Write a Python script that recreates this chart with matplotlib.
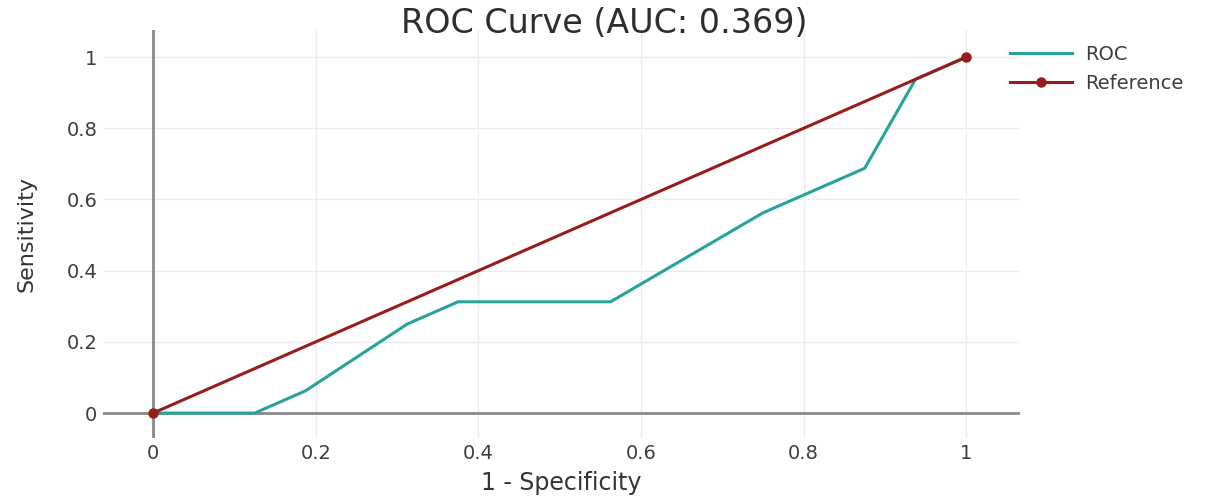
import matplotlib
matplotlib.use("Agg")
import matplotlib.pyplot as plt

plt.rcParams['font.family'] = ['DejaVu Sans']

# ROC points
fpr = [0, 0.125, 0.1875, 0.3125, 0.375, 0.5625, 0.75, 0.875, 0.9375, 1.0]
tpr = [0, 0, 0.0625, 0.25, 0.3125, 0.3125, 0.5625, 0.6875, 0.9375, 1.0]
ref_x = [0, 1]
ref_y = [0, 1]
ticks = [0, 0.2, 0.4, 0.6, 0.8, 1]
tick_labels = ["0", "0.2", "0.4", "0.6", "0.8", "1"]
auc = 0.369

fig = plt.figure(figsize=(12.31, 4.98), dpi=100)
ax = fig.add_axes([0.0837, 0.1205, 0.7449, 0.8193])

ax.axvline(0, color="#8a8a8a", lw=2, zorder=1)
ax.axhline(0, color="#8a8a8a", lw=2, zorder=1)
ax.plot(fpr, tpr, color="#26a39b", lw=2.2, label="ROC", zorder=3)
ax.plot(ref_x, ref_y, color="#991c1c", lw=2.2, marker="o", ms=6.5, label="Reference", zorder=3)

ax.set_xlim(-0.0615, 1.066)
ax.set_ylim(-0.070, 1.076)
ax.set_xticks(ticks)
ax.set_xticklabels(tick_labels)
ax.set_yticks(ticks)
ax.set_yticklabels(tick_labels)
ax.tick_params(length=0, labelsize=14, colors="#3d3d3d", pad=4)
ax.grid(True, color="#ececec", lw=1)
ax.set_axisbelow(True)
for s in ax.spines.values():
    s.set_visible(False)

ax.set_xlabel("1 - Specificity", fontsize=17, color="#333333", labelpad=6)
ax.set_ylabel("Sensitivity", fontsize=16, color="#333333", labelpad=22)
fig.text(0.491, 0.953, f"ROC Curve (AUC: {auc})", fontsize=24, color="#2e2e2e",
         ha="center", va="center")

ax.legend(loc="upper left", bbox_to_anchor=(0.989, 0.963), frameon=False,
          fontsize=14, handlelength=3.2, handletextpad=0.65, labelspacing=0.5,
          borderpad=0, borderaxespad=0, labelcolor="#3d3d3d")

fig.savefig("out.png", dpi=100)
